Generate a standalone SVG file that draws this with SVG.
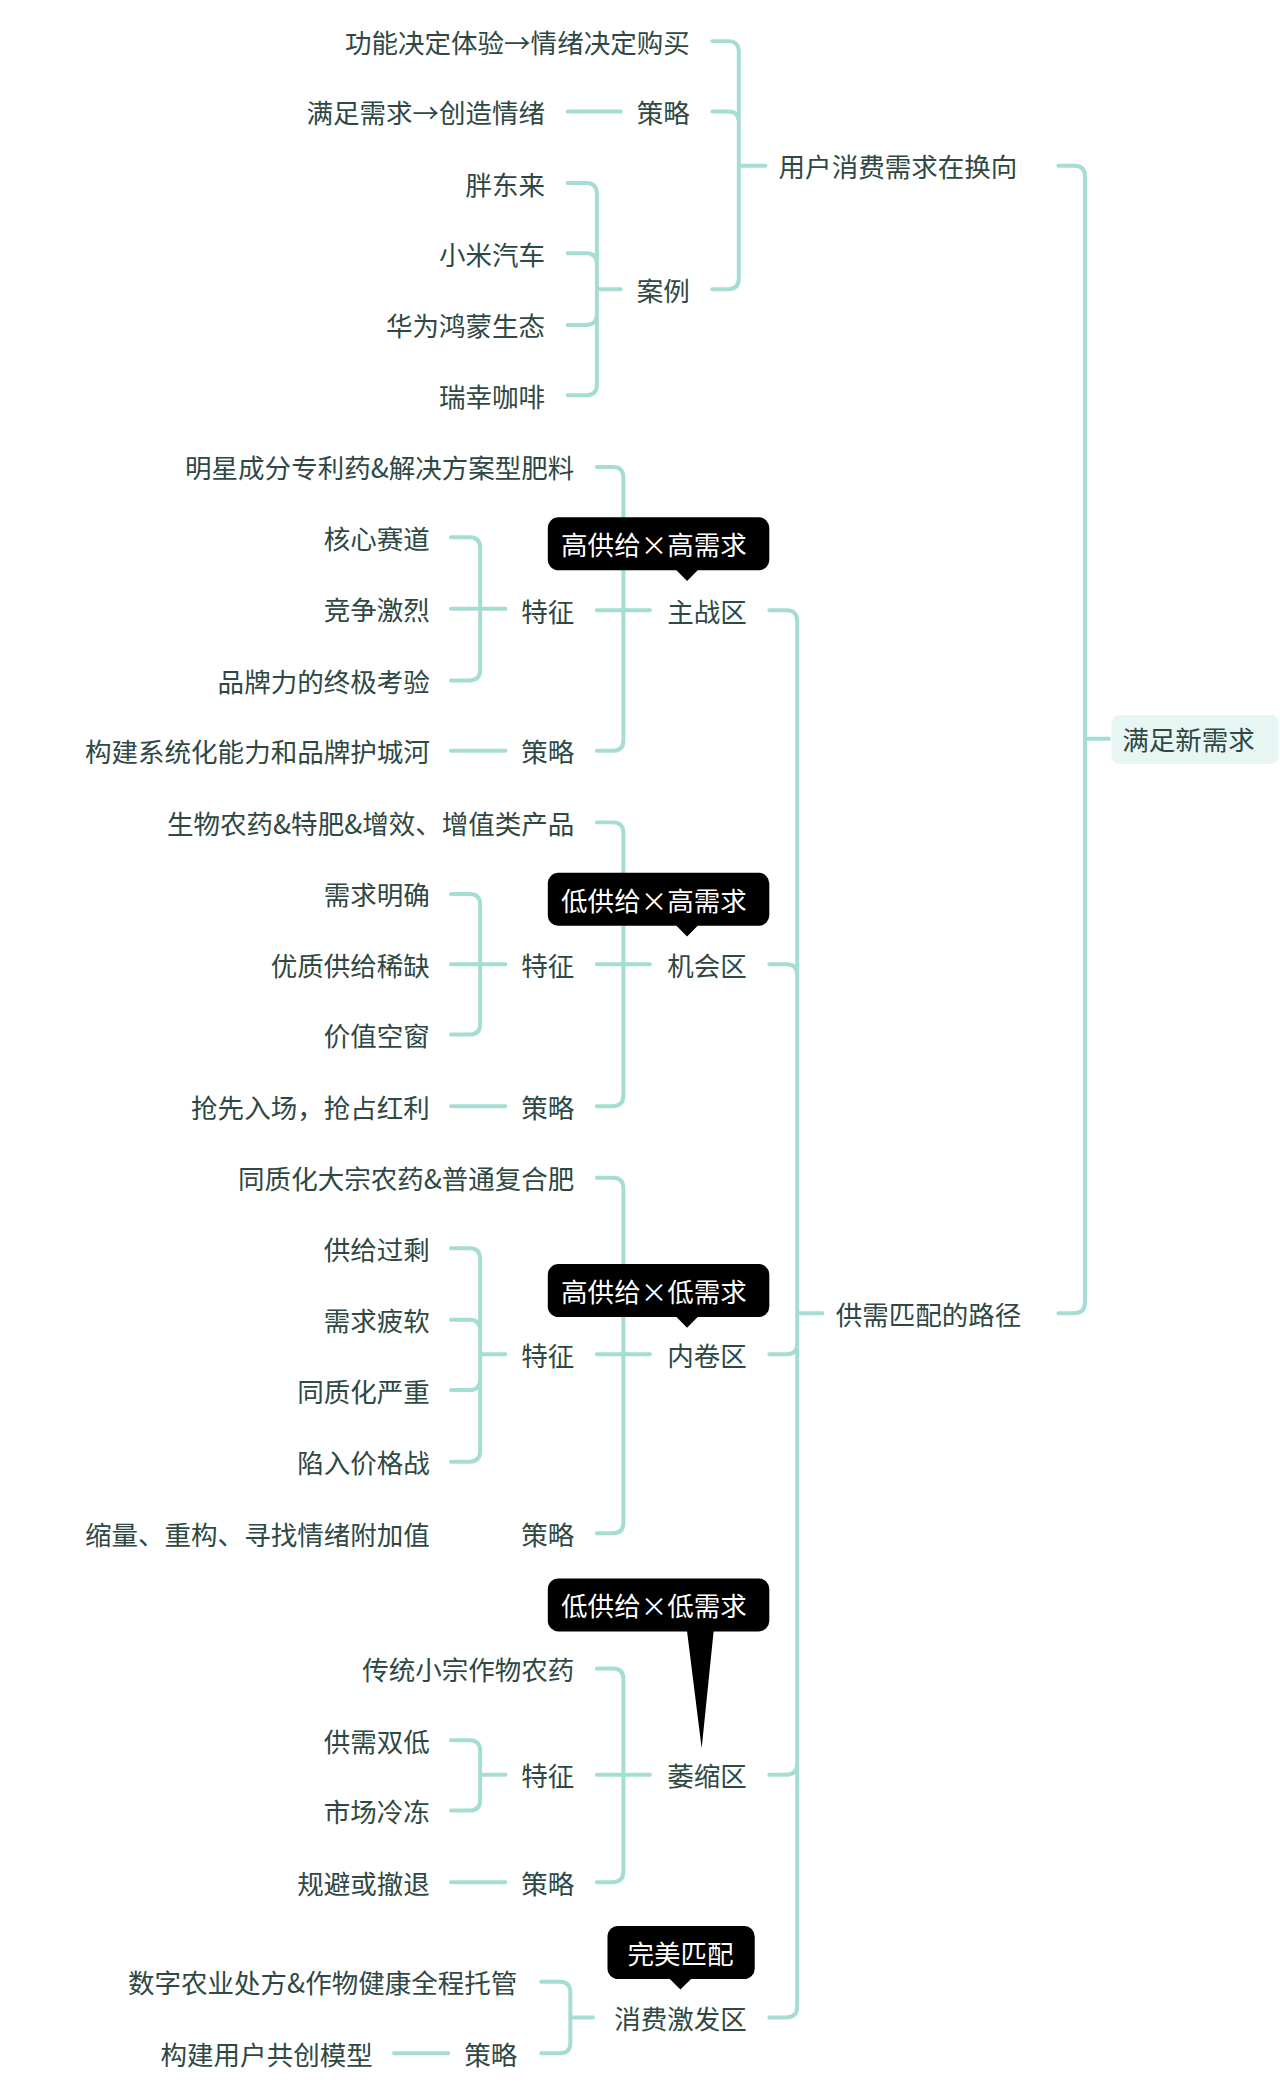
<svg xmlns="http://www.w3.org/2000/svg" width="1280" height="2083" viewBox="0 0 1280 2083">
<style>
text{font-family:"Noto Sans CJK SC","Noto Sans",sans-serif;font-size:20px;fill:#2f4843;dominant-baseline:central}
.e{text-anchor:end}
.w{fill:#fff;text-anchor:middle}
#conn path{fill:none;stroke:#a6ddd2;stroke-width:3;stroke-linecap:round}
</style>
<rect width="1280" height="2083" fill="#fff"/>
<g transform="scale(1.3264)">
<g id="conn">
<path d="M537 31H549Q557 31 557 39V125M537 84H549Q557 84 557 92V125M537 218H549Q557 218 557 210V125M557 125H577"/>
<path d="M428 84H468"/>
<path d="M428 138H442Q450 138 450 146V218M428 191H442Q450 191 450 199V218M428 245H442Q450 245 450 237V218M428 298H442Q450 298 450 290V218M450 218H468"/>
<path d="M798 125H810Q818 125 818 133V557M798 990H810Q818 990 818 982V557M818 557H836"/>
<path d="M580 460H593Q601 460 601 468V990M580 727H593Q601 727 601 735V990M580 1021H593Q601 1021 601 1013V990M580 1338H593Q601 1338 601 1330V990M580 1521H593Q601 1521 601 1513V990M601 990H620"/>
<path d="M450 352H462Q470 352 470 360V460M450 460H490M450 566H462Q470 566 470 558V460"/>
<path d="M340 405H354Q362 405 362 413V459M340 459H381M340 513H354Q362 513 362 505V459M340 566H381"/>
<path d="M450 620H462Q470 620 470 628V727M450 727H490M450 834H462Q470 834 470 826V727"/>
<path d="M340 674H354Q362 674 362 682V727M340 727H381M340 780H354Q362 780 362 772V727M340 834H381"/>
<path d="M450 888H462Q470 888 470 896V1021M450 1021H490M450 1156H462Q470 1156 470 1148V1021"/>
<path d="M340 941H354Q362 941 362 949V1021M340 995H354Q362 995 362 1003V1021M340 1048H354Q362 1048 362 1040V1021M340 1102H354Q362 1102 362 1094V1021M362 1021H381"/>
<path d="M450 1258H462Q470 1258 470 1266V1338M450 1338H490M450 1419H462Q470 1419 470 1411V1338"/>
<path d="M340 1312H354Q362 1312 362 1320V1338M340 1365H354Q362 1365 362 1357V1338M362 1338H381M340 1419H381"/>
<path d="M408 1494H422Q430 1494 430 1502V1521M408 1548H422Q430 1548 430 1540V1521M430 1521H447M297 1548H338"/>
</g>
<g id="root"><rect x="838" y="539" width="126" height="37" rx="6" fill="#e8f6f3"/><text x="846" y="557">满足新需求</text></g>
<g id="n1"><text x="587" y="125">用户消费需求在换向</text></g>
<g id="n1a"><text class="e" x="520" y="31">功能决定体验→情绪决定购买</text></g>
<g id="n1b"><text class="e" x="520" y="84">策略</text><text class="e" x="411" y="84">满足需求→创造情绪</text></g>
<g id="n1c"><text class="e" x="520" y="218">案例</text><text class="e" x="411" y="138">胖东来</text><text class="e" x="411" y="191">小米汽车</text><text class="e" x="411" y="245">华为鸿蒙生态</text><text class="e" x="411" y="298">瑞幸咖啡</text></g>
<g id="n2"><text x="630" y="990">供需匹配的路径</text></g>
<g id="z1"><text class="e" x="563" y="460">主战区</text><text class="e" x="433" y="352">明星成分专利药&amp;解决方案型肥料</text><text class="e" x="433" y="460">特征</text><text class="e" x="433" y="566">策略</text><text class="e" x="324" y="405">核心赛道</text><text class="e" x="324" y="459">竞争激烈</text><text class="e" x="324" y="513">品牌力的终极考验</text><text class="e" x="324" y="566">构建系统化能力和品牌护城河</text>
<path d="M413 398a8 8 0 0 1 8-8h151a8 8 0 0 1 8 8v24a8 8 0 0 1-8 8h-46l-8 8-8-8h-89a8 8 0 0 1-8-8z" fill="#000"/><text class="w" x="493" y="410">高供给×高需求</text></g>
<g id="z2"><text class="e" x="563" y="727">机会区</text><text class="e" x="433" y="620">生物农药&amp;特肥&amp;增效、增值类产品</text><text class="e" x="433" y="727">特征</text><text class="e" x="433" y="834">策略</text><text class="e" x="324" y="674">需求明确</text><text class="e" x="324" y="727">优质供给稀缺</text><text class="e" x="324" y="780">价值空窗</text><text class="e" x="324" y="834">抢先入场，抢占红利</text>
<path d="M413 666a8 8 0 0 1 8-8h151a8 8 0 0 1 8 8v24a8 8 0 0 1-8 8h-46l-8 8-8-8h-89a8 8 0 0 1-8-8z" fill="#000"/><text class="w" x="493" y="678">低供给×高需求</text></g>
<g id="z3"><text class="e" x="563" y="1021">内卷区</text><text class="e" x="433" y="888">同质化大宗农药&amp;普通复合肥</text><text class="e" x="433" y="1021">特征</text><text class="e" x="433" y="1156">策略</text><text class="e" x="324" y="941">供给过剩</text><text class="e" x="324" y="995">需求疲软</text><text class="e" x="324" y="1048">同质化严重</text><text class="e" x="324" y="1102">陷入价格战</text><text class="e" x="324" y="1156">缩量、重构、寻找情绪附加值</text>
<path d="M413 961a8 8 0 0 1 8-8h151a8 8 0 0 1 8 8v24a8 8 0 0 1-8 8h-46l-8 8-8-8h-89a8 8 0 0 1-8-8z" fill="#000"/><text class="w" x="493" y="973">高供给×低需求</text></g>
<g id="z4"><text class="e" x="563" y="1338">萎缩区</text><text class="e" x="433" y="1258">传统小宗作物农药</text><text class="e" x="433" y="1338">特征</text><text class="e" x="433" y="1419">策略</text><text class="e" x="324" y="1312">供需双低</text><text class="e" x="324" y="1365">市场冷冻</text><text class="e" x="324" y="1419">规避或撤退</text>
<path d="M413 1198a8 8 0 0 1 8-8h151a8 8 0 0 1 8 8v24a8 8 0 0 1-8 8h-34l-9 88-11-88h-97a8 8 0 0 1-8-8z" fill="#000"/><text class="w" x="493" y="1210">低供给×低需求</text></g>
<g id="z5"><text class="e" x="563" y="1521">消费激发区</text><text class="e" x="390" y="1494">数字农业处方&amp;作物健康全程托管</text><text class="e" x="390" y="1548">策略</text><text class="e" x="281" y="1548">构建用户共创模型</text>
<path d="M458 1460a8 8 0 0 1 8-8h95a8 8 0 0 1 8 8v24a8 8 0 0 1-8 8h-40l-8 8-8-8h-39a8 8 0 0 1-8-8z" fill="#000"/><text class="w" x="513" y="1472">完美匹配</text></g>
</g>
</svg>
